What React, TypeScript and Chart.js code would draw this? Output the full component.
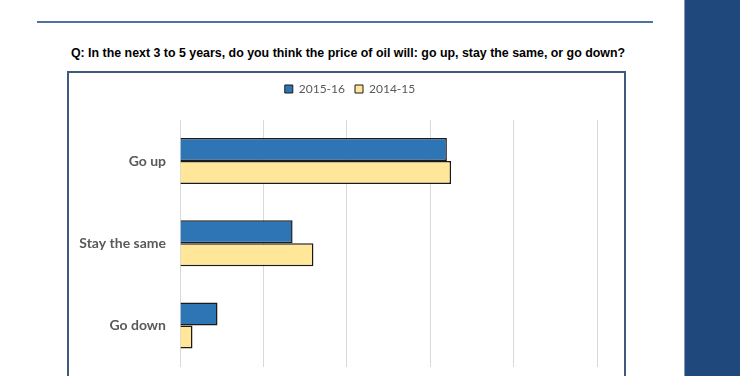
import React, { useEffect, useRef } from "react";
import { Chart, registerables } from "chart.js";

Chart.register(...registerables);

const categories = ["Go up", "Stay the same", "Go down"];
const seriesNames = ["2015-16", "2014-15"];
const values2015_16 = [64, 27, 9];
const values2014_15 = [65, 32, 3];
const xTicks = [0, 20, 40, 60, 80, 100];
const titleText =
  "Q: In the next 3 to 5 years, do you think the price of oil will: go up, stay the same, or go down?";

const legendPlugin = {
  id: "legendTweak",
  beforeInit(chart: any) {
    const lg = chart.legend;
    if (!lg) return;
    const orig = lg.fit;
    lg.fit = function () {
      orig.call(this);
      this.height = 54;
    };
  },
  afterLayout(chart: any) {
    const lg = chart.legend;
    if (!lg) return;
    lg.left += 17;
    lg.right += 17;
    lg.top += 7;
    lg.bottom += 7;
  },
};

export default function App() {
  const ref = useRef<HTMLCanvasElement | null>(null);

  useEffect(() => {
    if (!ref.current) return;
    const chart = new Chart(ref.current, {
      type: "bar",
      data: {
        labels: categories,
        datasets: [
          {
            label: seriesNames[0],
            data: values2015_16,
            backgroundColor: "#2e75b6",
            borderColor: "#1a1a1a",
            borderWidth: 1.5,
            barPercentage: 1,
            categoryPercentage: 0.56,
          },
          {
            label: seriesNames[1],
            data: values2014_15,
            backgroundColor: "#ffe699",
            borderColor: "#1a1a1a",
            borderWidth: 1.5,
            barPercentage: 1,
            categoryPercentage: 0.56,
          },
        ],
      },
      options: {
        indexAxis: "y",
        animation: false,
        responsive: false,
        maintainAspectRatio: false,
        layout: { padding: { left: 0, right: 25, top: 0, bottom: 0 } },
        plugins: {
          tooltip: { enabled: false },
          legend: {
            display: true,
            position: "top",
            labels: {
              boxWidth: 8,
              boxHeight: 8,
              padding: 10,
              color: "#595959",
              font: { family: "Lato, 'Liberation Sans', sans-serif", size: 12 },
              generateLabels: (c: any) =>
                c.data.datasets.map((ds: any, i: number) => ({
                  text: ds.label,
                  fillStyle: ds.backgroundColor,
                  strokeStyle: "#1a1a1a",
                  lineWidth: 1,
                  fontColor: "#595959",
                  datasetIndex: i,
                  hidden: false,
                })),
            },
          },
        },
        scales: {
          x: {
            min: xTicks[0],
            max: xTicks[xTicks.length - 1],
            afterBuildTicks: (s: any) => {
              s.ticks = xTicks.map((v) => ({ value: v }));
            },
            afterFit: (s: any) => {
              s.height = 0;
            },
            ticks: { display: false },
            grid: { color: "#d9d9d9", lineWidth: 1, drawTicks: false },
            border: { display: false },
          },
          y: {
            grid: { display: false, drawTicks: false },
            border: { display: false },
            afterFit: (s: any) => {
              s.width = 111;
            },
            ticks: {
              padding: 14,
              color: "#595959",
              font: { family: "Lato, 'Liberation Sans', sans-serif", size: 14, weight: "bold" },
            },
          },
        },
      },
      plugins: [legendPlugin],
    } as any);
    return () => chart.destroy();
  }, []);

  return (
    <div
      style={{
        position: "fixed",
        left: 0,
        top: 0,
        width: 740,
        height: 376,
        overflow: "hidden",
        background: "#ffffff",
      }}
    >
      <div
        style={{
          position: "absolute",
          left: 37,
          top: 21,
          width: 616,
          height: 2,
          background: "#4f72a6",
        }}
      />
      <div
        style={{
          position: "absolute",
          left: 684,
          top: 0,
          width: 56,
          height: 376,
          background: "#1f497d",
          borderLeft: "1px solid #7f98bb",
          boxSizing: "border-box",
        }}
      />
      <div
        style={{
          position: "absolute",
          left: 40,
          top: 46,
          width: 616,
          textAlign: "center",
          fontFamily: "'Liberation Sans', Arial, sans-serif",
          fontWeight: "bold",
          fontSize: 12.4,
          color: "#000000",
          whiteSpace: "nowrap",
        }}
      >
        {titleText}
      </div>
      <div
        style={{
          position: "absolute",
          left: 67,
          top: 71,
          width: 559,
          height: 340,
          border: "2px solid #3f5a7e",
          boxSizing: "border-box",
        }}
      />
      <canvas
        ref={ref}
        width={553}
        height={323}
        style={{ position: "absolute", left: 69, top: 66, width: 553, height: 323 }}
      />
      <div
        style={{
          position: "absolute",
          left: 69,
          top: 367,
          width: 553,
          height: 20,
          background: "#ffffff",
        }}
      />
    </div>
  );
}
